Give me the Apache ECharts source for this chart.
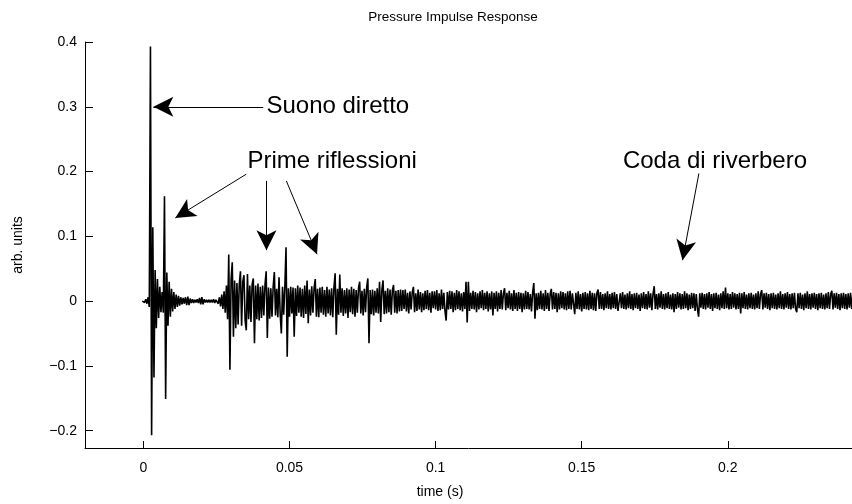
<!DOCTYPE html>
<html>
<head>
<meta charset="utf-8">
<script src="https://cdn.jsdelivr.net/npm/echarts@6/dist/echarts.min.js"></script>
<style>html,body{margin:0;padding:0;background:#fff}#c{width:852px;height:504px}</style>
</head>
<body>
<div id="c"></div>
<script>
// ---- data (pressure in thousandths of arb. units, fixed sample step) ----
var startTime = -0.0004;      // s, time of first sample
var sampleStep = 0.0004;      // s between samples
var directSound = [0,1,-2,3,-4,6,-9,393,-207,114,-118,48,-42,34,-26,22,-17,14,-18,162,-151,44,-38,30,-24,19,-16,14,-12,10,-9,8,-7,6,-5,5,-4,6,-6,7,-6,4,-3,3,-3,2,-2,3,-3,5,-5,6,-5,3,-2,2,-2,2,-2,2,-2,3,-3,2];
var earlyReflections = [3,-4,6,-8,10,-12,15,-18,24,-28,
72,-106,34,60,-55,32,-42,28,-36,26,
46,-38,30,40,-30,-45,42,-28,24,-32,
26,35,-65,24,-28,27,-30,22,-26,24,
-22,25,46,-57,21,-27,20,-24,22,45,
-22,19,-25,37,-20,-50,22,-21,23,83,
-86,20,-24,22,-19,21,-55,20,-23,24,
-18,21,-24,19,-26,24,-20,32,-34,18,
-22,23,-18,20,34,-24,19,-25,21,-18,
22,-21,17,-24,22,-19,18,-22,20,-25,
21,43,-52,19,-21,41,-18,20,-23,17,
-19,20,-26,18,-17,22,-20,19,-24,17,
-18,20,30,-19,16,-22,19,-17,21,35,
-65,17,-20,18,-22,16,-18,20,-19,30,
-32,17,32,-20,16,-19,20,-17,18,-21,
17,25,-18,16,-19,17,-16,18];
var reverbTail = [-15,17,-12,18,-16,13,-19,15,-13,14,22,-17,12,-15,18,-13,14,-17,12,-14,
16,-12,17,-14,13,-18,15,-11,15,-13,17,-15,12,-14,18,-12,13,-15,-30,14,
-13,16,-12,15,-17,13,-14,17,-12,15,-14,12,-16,14,-12,30,-33,30,-15,13,
-12,16,-13,14,-17,12,-13,15,-11,17,-14,13,-12,15,-16,12,-13,15,-22,13,
-12,15,-16,13,-12,17,-13,12,20,-14,13,-11,16,-13,12,-15,17,-12,13,-15,
14,-12,13,-17,12,-13,16,-12,14,-13,11,-16,13,28,-27,12,-14,13,-12,16,
-13,12,-15,17,-12,13,-15,11,19,-13,14,-12,13,-17,12,-13,15,-11,14,-13,
12,-14,15,-12,16,-13,12,14,-20,13,-12,15,-13,11,-16,13,-12,14,-13,12,
-14,16,-12,13,-14,12,-15,13,18,-12,14,-12,11,-14,12,-11,15,-12,11,-13,
13,-11,14,-12,11,-15,-18,12,-11,14,-12,10,-13,12,-11,15,-12,11,-14,12,
-11,13,-12,10,-15,12,-11,14,-12,11,-13,15,-10,12,-14,11,23,-12,11,-13,
12,-10,15,-12,11,-13,12,-11,14,-12,10,-13,12,-17,11,-12,14,-10,12,-13,
11,-12,15,-11,12,-14,10,-12,13,-11,12,-15,11,-12,-24,12,-10,13,-12,11,
-13,12,-10,14,-12,11,-15,12,-11,13,-12,10,-14,12,-11,15,-12,21,-11,12,
-13,11,-12,14,-10,12,-13,11,-12,13,-19,12,-11,14,-12,10,-13,12,-11,13,
-12,10,-13,12,-11,15,-12,11,17,-13,12,-10,13,-12,11,-14,12,-11,13,-12,
10,-13,12,-11,15,-12,11,-13,12,-10,14,-12,11,-13,12,-11,13,-12,-17,12,
-11,13,-12,10,-14,12,-11,15,-12,11,-13,12,-10,13,-12,11,-14,12,-11,13,
-12,10,-13,12,-11,14,-12,11,16,-13,12,-10,13,-12,11,-14,12,-11,13,-12,
11,-13,12,-10,13,-12,11];

var xTicks = [0, 0.05, 0.1, 0.15, 0.2];
var yTicks = [-0.2, -0.1, 0, 0.1, 0.2, 0.3, 0.4];

// annotations: [text, t, value]
var annotationTexts = [
  ['Suono diretto', 0.0421, 0.300],
  ['Prime riflessioni', 0.0356, 0.216],
  ['Coda di riverbero', 0.1641, 0.216]
];
// arrows: [tStart, vStart, tTip, vTip]
var annotationArrows = [
  [0.0410, 0.300, 0.0034, 0.300],
  [0.0352, 0.196, 0.0109, 0.1285],
  [0.0421, 0.1856, 0.0421, 0.0787],
  [0.0489, 0.1856, 0.0594, 0.0725],
  [0.1901, 0.1971, 0.1845, 0.0633]
];

// ---- build ----
var samples = directSound.concat(earlyReflections, reverbTail);
var seriesData = samples.map(function (v, i) {
  return [startTime + i * sampleStep, v / 1000];
});

var FONT = 'Liberation Sans, Arial, Helvetica, sans-serif';
function fmt(v) {
  var s = String(Math.round(v * 1000) / 1000);
  return s.charAt(0) === '-' ? '\u2212' + s.slice(1) : s;
}

var chart = echarts.init(document.getElementById('c'), null, {renderer: 'canvas'});
chart.setOption({
  animation: false,
  backgroundColor: '#fff',
  graphic: [{
    type: 'text', x: 453, y: 17,
    style: {text: 'Pressure Impulse Response', font: '13.5px ' + FONT, fill: '#000',
            textAlign: 'center', textVerticalAlign: 'middle'}
  }, {
    type: 'text', x: 440, y: 492,
    style: {text: 'time (s)', font: '14px ' + FONT, fill: '#000',
            textAlign: 'center', textVerticalAlign: 'middle'}
  }],
  grid: {left: 85, right: 0, top: 42, bottom: 56, containLabel: false},
  xAxis: {
    type: 'value', min: -0.02, max: 0.2425,
    axisLine: {show: true, onZero: false, lineStyle: {color: '#000', width: 1}},
    axisTick: {show: true, inside: true, length: 7, lineStyle: {color: '#000'}, customValues: xTicks},
    axisLabel: {show: true, customValues: xTicks, formatter: fmt, margin: 13,
                fontFamily: FONT, fontSize: 14, color: '#000'},
    splitLine: {show: false}
  },
  yAxis: {
    type: 'value', min: -0.2267, max: 0.4,
    name: 'arb. units', nameLocation: 'middle', nameGap: 60, nameRotate: 90,
    nameTextStyle: {fontFamily: FONT, fontSize: 14, color: '#000'},
    axisLine: {show: true, onZero: false, lineStyle: {color: '#000', width: 1}},
    axisTick: {show: true, inside: true, length: 8, lineStyle: {color: '#000'}, customValues: yTicks},
    axisLabel: {show: true, customValues: yTicks, formatter: fmt, margin: 8,
                fontFamily: FONT, fontSize: 14, color: '#000'},
    splitLine: {show: false}
  },
  series: [{
    type: 'line',
    data: seriesData,
    showSymbol: false,
    symbol: 'none',
    sampling: null,
    lineStyle: {color: '#000', width: 1.6},
    z: 2,
    markLine: {
      silent: true,
      symbol: ['none', 'arrow'],
      symbolSize: [15, 20],
      label: {show: false},
      lineStyle: {color: '#000', width: 1, type: 'solid'},
      data: annotationArrows.map(function (a) {
        return [{coord: [a[0], a[1]]}, {coord: [a[2], a[3]]}];
      })
    },
    markPoint: {
      silent: true,
      data: annotationTexts.map(function (a) {
        return {
          coord: [a[1], a[2]], symbol: 'circle', symbolSize: 0,
          label: {show: true, position: 'right', distance: 0, formatter: a[0],
                  fontFamily: FONT, fontSize: 24, color: '#000'}
        };
      })
    }
  }]
});
</script>
</body>
</html>
